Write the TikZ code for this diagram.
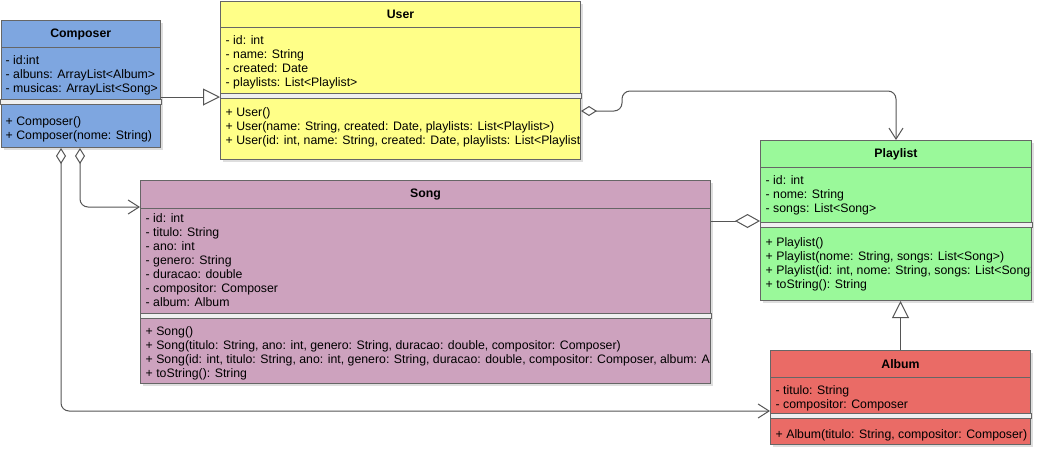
\documentclass[tikz,border=0pt]{standalone}
\usepackage{fontspec}
\setmainfont{Liberation Sans}
\usetikzlibrary{arrows.meta}
\definecolor{cComposer}{HTML}{7EA6E0}
\definecolor{cUser}{HTML}{FFFF88}
\definecolor{cPlaylist}{HTML}{9AF99A}
\definecolor{cSong}{HTML}{CDA2BE}
\definecolor{cAlbum}{HTML}{EA6B66}
\definecolor{bordc}{HTML}{666666}
\definecolor{edgec}{HTML}{555555}
\begin{document}
\begin{tikzpicture}[x=1pt,y=-1pt,
  classbox/.style={draw=bordc, line width=1pt, inner sep=0pt, anchor=north west},
  hdr/.style={draw=bordc, line width=1pt, inner sep=0pt, anchor=north west, font=\fontsize{12.3}{14}\selectfont\bfseries},
  txt/.style={inner sep=0pt, anchor=north west, align=left, yshift=-1pt, font=\fontsize{12.3}{14}\selectfont, execute at begin node=\strut},
  sepband/.style={draw=bordc, line width=0.8pt, fill=white!94!black},
  shadowbox/.style={fill=black, opacity=0.13},
  conn/.style={draw=edgec, line width=1pt, rounded corners=8pt},
  gentip/.style={-{Triangle[open,length=17pt,width=17pt]}},
]
\fill[white] (0,0) rectangle (1042,459);
\useasboundingbox (0,0) rectangle (1042,459);

% ---------- shadows ----------
\fill[shadowbox] (3.5,23) rectangle (163,150);
\fill[shadowbox] (223,3.5) rectangle (583,162);
\fill[shadowbox] (763,143) rectangle (1034,303);
\fill[shadowbox] (143,183) rectangle (713,386);
\fill[shadowbox] (773,353) rectangle (1033,447);

% ---------- Composer ----------
\node[classbox, fill=cComposer, minimum width=159.5pt, minimum height=127pt] (composer) at (0.5,20) {};
\node[hdr, minimum width=159.5pt, minimum height=27pt] (composerH) at (0.5,20) {Composer};
\draw[sepband] (composer.west |- 0,99) rectangle (composer.east |- 0,104);
\node[txt] (composerA) at (5.5,54.5) {- id:int\\- albuns: ArrayList<Album>\\- musicas: ArrayList<Song>};
\node[txt] (composerM) at (5.5,115.5) {+ Composer()\\+ Composer(nome: String)};

% ---------- User ----------
\node[classbox, fill=cUser, minimum width=360pt, minimum height=158.5pt] (user) at (220,0.5) {};
\node[hdr, minimum width=360pt, minimum height=26.5pt] (userH) at (220,0.5) {User};
\draw[sepband] (user.west |- 0,93) rectangle (user.east |- 0,98);
\node[txt] (userA) at (225.5,34.5) {- id: int\\- name: String\\- created: Date\\- playlists: List<Playlist>};
\begin{scope}
\clip (220,0) rectangle (579.5,160);
\node[txt] (userM) at (225.5,106.5) {+ User()\\+ User(name: String, created: Date, playlists: List<Playlist>)\\+ User(id: int, name: String, created: Date, playlists: List<Playlist>)};
\end{scope}

% ---------- Playlist ----------
\node[classbox, fill=cPlaylist, minimum width=271pt, minimum height=160pt] (playlist) at (760,140) {};
\node[hdr, minimum width=271pt, minimum height=27pt] (playlistH) at (760,140) {Playlist};
\draw[sepband] (playlist.west |- 0,222) rectangle (playlist.east |- 0,227);
\node[txt] (playlistA) at (765.5,174) {- id: int\\- nome: String\\- songs: List<Song>};
\begin{scope}
\clip (760,140) rectangle (1030.5,300);
\node[txt] (playlistM) at (765.5,236.5) {+ Playlist()\\+ Playlist(nome: String, songs: List<Song>)\\+ Playlist(id: int, nome: String, songs: List<Song>)\\+ toString(): String};
\end{scope}

% ---------- Song ----------
\node[classbox, fill=cSong, minimum width=570pt, minimum height=203pt] (song) at (140,180) {};
\node[hdr, minimum width=570pt, minimum height=28pt] (songH) at (140,180) {Song};
\draw[sepband] (song.west |- 0,313) rectangle (song.east |- 0,318);
\node[txt] (songA) at (145.5,212.5) {- id: int\\- titulo: String\\- ano: int\\- genero: String\\- duracao: double\\- compositor: Composer\\- album: Album};
\begin{scope}
\clip (140,180) rectangle (709.5,383);
\node[txt] (songM) at (145.5,325.5) {+ Song()\\+ Song(titulo: String, ano: int, genero: String, duracao: double, compositor: Composer)\\+ Song(id: int, titulo: String, ano: int, genero: String, duracao: double, compositor: Composer, album: Album)\\+ toString(): String};
\end{scope}

% ---------- Album ----------
\node[classbox, fill=cAlbum, minimum width=260pt, minimum height=94pt] (album) at (770,350) {};
\node[hdr, minimum width=260pt, minimum height=27pt] (albumH) at (770,350) {Album};
\draw[sepband] (album.west |- 0,413) rectangle (album.east |- 0,418);
\node[txt] (albumA) at (775.5,384.5) {- titulo: String\\- compositor: Composer};
\node[txt] (albumM) at (775.5,427.5) {+ Album(titulo: String, compositor: Composer)};

% ---------- connectors ----------
\draw[conn, gentip] (composer.east |- 0,97) -- (user.west |- 0,97);
\draw[conn, {Diamond[open,length=16pt,width=10pt]}-{Straight Barb[length=11pt,width=14pt]}]
  (user.east |- 0,111) -- (622,111) -- (622,91) -- (playlist.north |- 0,91) -- (playlist.north);
\draw[conn, -{Diamond[open,length=25pt,width=14pt]}] (song.east |- 0,221) -- (playlist.west |- 0,221);
\draw[conn, gentip] (album.north) -- (album.north |- playlist.south);
\draw[conn, {Diamond[open,length=16pt,width=10pt]}-{Straight Barb[length=11pt,width=14pt]}]
  (composer.south -| 80,0) -- (80,207) -- (song.west |- 0,207);
\draw[conn, {Diamond[open,length=16pt,width=10pt]}-{Straight Barb[length=11pt,width=14pt]}]
  (composer.south -| 61,0) -- (61,411) -- (album.west |- 0,411);
\end{tikzpicture}
\end{document}
